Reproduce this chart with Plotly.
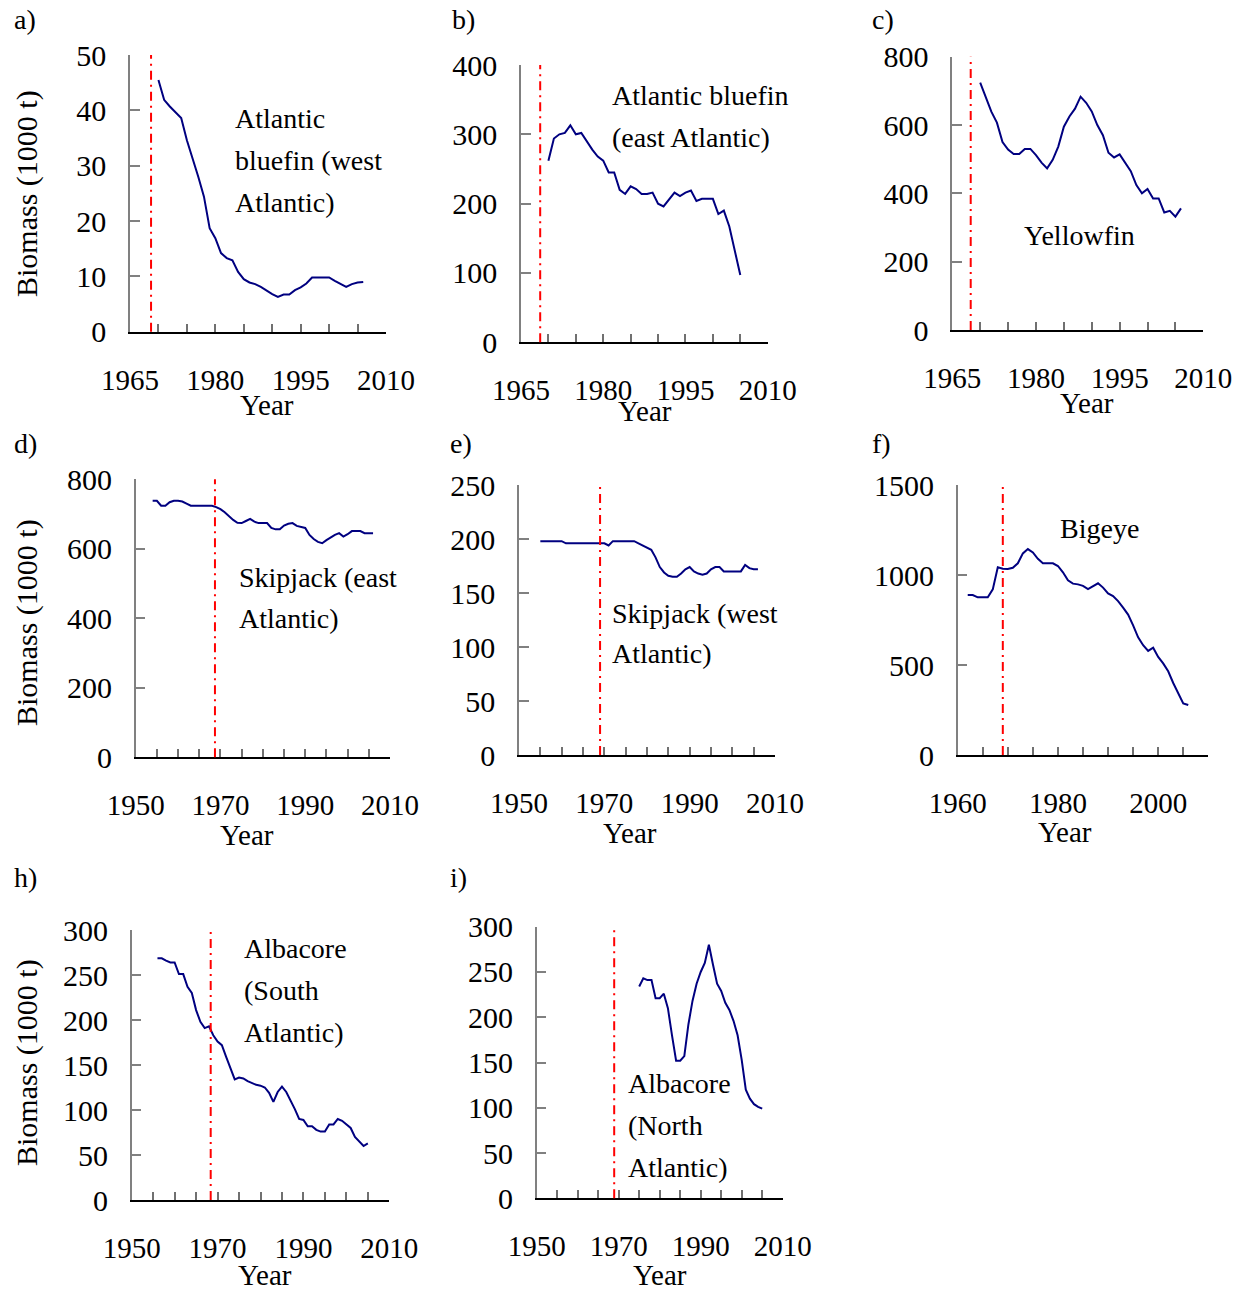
import plotly.graph_objects as go

W, H = 1249, 1291

# ---------------- data ----------------
years_a = list(range(1970, 2007))
biomass_a = [45.5, 41.9, 40.7, 39.6, 38.6, 34.6, 31.5, 28.0, 24.4, 18.7,
             16.9, 14.2, 13.3, 12.9, 10.8, 9.5, 8.9, 8.6, 8.1, 7.4,
             6.8, 6.3, 6.7, 6.7, 7.5, 8.0, 8.7, 9.8, 9.8, 9.8,
             9.8, 9.2, 8.6, 8.1, 8.6, 8.9, 9.0]

years_b = list(range(1970, 2006))
biomass_b = [262, 294, 300, 302, 313, 300, 302, 289, 278, 268,
             262, 245, 245, 220, 214, 225, 221, 214, 214, 216,
             200, 196, 206, 216, 211, 216, 219, 204, 207, 207,
             207, 185, 190, 167, 132, 97]

years_c = list(range(1970, 2007))
biomass_c = [724, 683, 639, 607, 550, 528, 515, 515, 530, 530,
             512, 490, 473, 498, 537, 595, 625, 648, 683, 665,
             640, 600, 570, 519, 505, 514, 488, 465, 424, 400,
             413, 385, 385, 344, 349, 332, 356]

years_d = list(range(1954, 2007))
biomass_d = [738, 738, 724, 724, 734, 738, 738, 736, 730, 724,
             724, 724, 724, 724, 724, 720, 714, 705, 694, 683,
             675, 674, 680, 686, 678, 674, 674, 674, 660, 656,
             656, 667, 672, 674, 666, 662, 660, 640, 628, 620,
             616, 625, 633, 640, 645, 635, 642, 651, 651, 651,
             645, 645, 645]

years_e = list(range(1955, 2007))
biomass_e = [198, 198, 198, 198, 198, 198, 196, 196, 196, 196,
             196, 196, 196, 196, 196, 196, 194, 198, 198, 198,
             198, 198, 198, 196, 194, 192, 190, 183, 174, 169,
             166, 165, 165, 168, 172, 174, 170, 168, 167, 168,
             172, 174, 174, 170, 170, 170, 170, 170, 176, 173,
             172, 172]

years_f = list(range(1962, 2007))
biomass_f = [889, 889, 876, 876, 876, 920, 1043, 1035, 1033, 1040,
             1065, 1120, 1144, 1125, 1090, 1065, 1065, 1065, 1050, 1015,
             970, 952, 948, 940, 922, 938, 954, 930, 898, 883,
             855, 819, 780, 720, 654, 610, 578, 596, 545, 509,
             465, 400, 346, 287, 278]

years_h = list(range(1956, 2006))
biomass_h = [268.5, 268.5, 266, 264, 264, 251, 251, 237, 230, 211,
             198, 191, 193, 183, 176, 172, 159, 146, 134, 136,
             135, 132, 130, 128, 127, 125, 119, 109, 120, 126,
             120, 111, 101, 90, 89, 82, 82, 78, 76, 76,
             84, 84, 90, 88, 84, 80, 70, 65, 60, 63]

years_i = list(range(1975, 2006))
biomass_i = [234, 243, 241, 241, 221, 221, 226, 210, 180, 152,
             152, 157, 192, 218, 237, 250, 260, 280, 258, 237,
             229, 216, 208, 196, 180, 153, 120, 110, 104, 101,
             99]

# year marking the vertical reference line in each panel
ref_years = {"a": 1968.7, "b": 1968.5, "c": 1968.3, "d": 1968.7,
             "e": 1969.0, "f": 1969.0, "h": 1968.4, "i": 1968.9}

# axis ranges / ticks
x_ranges = {"a": (1965, 2010), "b": (1965, 2010), "c": (1965, 2010),
            "d": (1950, 2010), "e": (1950, 2010), "f": (1960, 2010),
            "h": (1950, 2010), "i": (1950, 2010)}
x_labels = {"a": [1965, 1980, 1995, 2010], "b": [1965, 1980, 1995, 2010],
            "c": [1965, 1980, 1995, 2010], "d": [1950, 1970, 1990, 2010],
            "e": [1950, 1970, 1990, 2010], "f": [1960, 1980, 2000],
            "h": [1950, 1970, 1990, 2010], "i": [1950, 1970, 1990, 2010]}
y_max = {"a": 50, "b": 400, "c": 800, "d": 800, "e": 250, "f": 1500, "h": 300, "i": 300}
y_dtick = {"a": 10, "b": 100, "c": 200, "d": 200, "e": 50, "f": 500, "h": 50, "i": 50}

species_text = {
    "a": ["Atlantic", "bluefin (west", "Atlantic)"],
    "b": ["Atlantic bluefin", "(east Atlantic)"],
    "c": ["Yellowfin"],
    "d": ["Skipjack (east", "Atlantic)"],
    "e": ["Skipjack (west", "Atlantic)"],
    "f": ["Bigeye"],
    "h": ["Albacore", "(South", "Atlantic)"],
    "i": ["Albacore", "(North", "Atlantic)"],
}

series = {"a": (years_a, biomass_a), "b": (years_b, biomass_b), "c": (years_c, biomass_c),
          "d": (years_d, biomass_d), "e": (years_e, biomass_e), "f": (years_f, biomass_f),
          "h": (years_h, biomass_h), "i": (years_i, biomass_i)}

# ---------------- layout geometry (pixels) ----------------
boxes = {  # left, right, top, bottom of plot area
    "a": (130, 386, 55, 331.7),
    "b": (521, 767.7, 65, 342.3),
    "c": (952.3, 1203.3, 56.7, 330),
    "d": (135.7, 390, 479.3, 757.3),
    "e": (519, 775, 485, 755),
    "f": (957.7, 1208.3, 485, 755),
    "h": (131.7, 389.3, 930, 1200),
    "i": (536.7, 782.7, 926.7, 1198.3),
}
panel_label_pos = {"a": (12, 20), "b": (450, 20), "c": (870, 20), "d": (12, 443),
                   "e": (448, 443), "f": (870, 443), "h": (12, 877), "i": (448, 877)}
year_title_pos = {"a": (267, 405), "b": (645, 411), "c": (1087, 403), "d": (247, 835),
                  "e": (630, 833), "f": (1065, 832), "h": (265, 1275), "i": (660, 1275)}
species_pos = {  # left x, list of line centre y
    "a": (233, [118, 160, 202]),
    "b": (610, [96, 138]),
    "c": (1022, [235]),
    "d": (237, [577, 618]),
    "e": (610, [613, 653]),
    "f": (1058, [528]),
    "h": (242, [948, 990, 1032]),
    "i": (626, [1083, 1125, 1167]),
}
ytitle_pos = {"a": (27, 194), "d": (27, 623), "h": (27, 1063)}


def px(x):
    return x / W


def py(y):
    return 1 - y / H


FONT = "Liberation Serif, Times New Roman, serif"
fig = go.Figure()
annotations = []
shapes = []
layout_axes = {}

for k, name in enumerate(["a", "b", "c", "d", "e", "f", "h", "i"]):
    idx = k + 1
    sfx = "" if idx == 1 else str(idx)
    xa, ya = "x" + sfx, "y" + sfx
    l, r, t, b = boxes[name]
    x0, x1 = x_ranges[name]
    tickvals = list(range(x0, x1 + 1, 5))
    ticktext = [str(v) if v in x_labels[name] else "" for v in tickvals]

    layout_axes["xaxis" + sfx] = dict(
        domain=[px(l), px(r)], anchor=ya, range=[x0, x1], automargin=False,
        showgrid=False, zeroline=False, showline=True, linecolor="black", linewidth=2,
        ticks="inside", ticklen=8, tickwidth=1.5, tickcolor="#707070",
        tickvals=tickvals, ticktext=ticktext, ticklabelstandoff=21,
        tickfont=dict(family=FONT, size=29, color="black"), fixedrange=True)
    layout_axes["yaxis" + sfx] = dict(
        domain=[py(b), py(t)], anchor=xa, range=[0, y_max[name]], dtick=y_dtick[name],
        tick0=0, automargin=False, showgrid=False, zeroline=False, showline=True,
        linecolor="#808080", linewidth=1.5, ticks="inside", ticklen=10, tickwidth=1.5,
        tickcolor="#808080", ticklabelstandoff=16,
        tickfont=dict(family=FONT, size=30, color="black"), fixedrange=True)

    yrs, vals = series[name]
    fig.add_trace(go.Scatter(x=yrs, y=vals, mode="lines", xaxis=xa, yaxis=ya,
                             line=dict(color="#000080", width=2), showlegend=False,
                             hoverinfo="skip"))

    shapes.append(dict(type="line", xref=xa, yref=ya + " domain",
                       x0=ref_years[name], x1=ref_years[name], y0=0, y1=1,
                       line=dict(color="#FF0000", width=2, dash="9px,5px,2px,5px")))

    lx, ly = panel_label_pos[name]
    annotations.append(dict(text=name + ")", x=px(lx), y=py(ly), xref="paper", yref="paper",
                            xanchor="left", yanchor="middle", showarrow=False,
                            font=dict(family=FONT, size=28, color="black")))
    tx, ty = year_title_pos[name]
    annotations.append(dict(text="Year", x=px(tx), y=py(ty), xref="paper", yref="paper",
                            xanchor="center", yanchor="middle", showarrow=False,
                            font=dict(family=FONT, size=29, color="black")))
    sx, sys_ = species_pos[name]
    for line_text, yy in zip(species_text[name], sys_):
        annotations.append(dict(text=line_text, x=px(sx), y=py(yy), xref="paper",
                                yref="paper", xanchor="left", yanchor="middle",
                                showarrow=False,
                                font=dict(family=FONT, size=28, color="black")))
    if name in ytitle_pos:
        ux, uy = ytitle_pos[name]
        annotations.append(dict(text="Biomass (1000 t)", x=px(ux), y=py(uy), xref="paper",
                                yref="paper", xanchor="center", yanchor="middle",
                                textangle=-90, showarrow=False,
                                font=dict(family=FONT, size=30, color="black")))

fig.update_layout(width=W, height=H, margin=dict(l=0, r=0, t=0, b=0, pad=0, autoexpand=False),
                  paper_bgcolor="white", plot_bgcolor="white",
                  annotations=annotations, shapes=shapes, **layout_axes)

fig.write_html("out.html", config={"displayModeBar": False},
               post_script="document.body.style.margin='0';")
